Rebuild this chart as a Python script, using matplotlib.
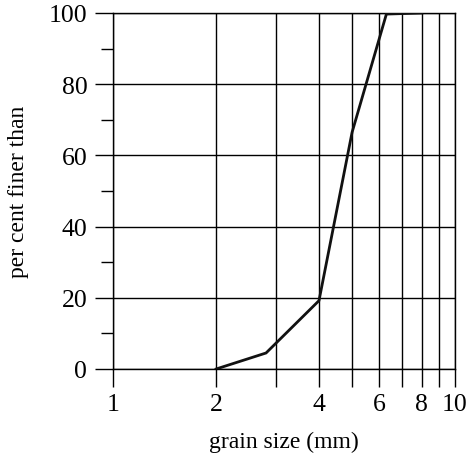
import matplotlib
matplotlib.use("Agg")
import matplotlib.pyplot as plt
from matplotlib.ticker import FixedLocator, NullFormatter, FixedFormatter

grain_size = [2.0, 2.8, 4.0, 5.0, 6.3, 8.0]
percent_finer = [0.0, 4.5, 19.2, 66.5, 99.7, 100.0]
x_grid = [1, 2, 3, 4, 5, 6, 7, 8, 9, 10]
x_labels = ["1", "2", "", "4", "", "6", "", "8", "", "10"]
y_major = [0, 20, 40, 60, 80, 100]
y_minor = [10, 30, 50, 70, 90]

plt.rcParams['font.family'] = ['Liberation Serif', 'DejaVu Serif']

fig = plt.figure(figsize=(4.70, 4.56), dpi=100)
ax = fig.add_axes([0.241, 0.1886, 0.727, 0.7807])
ax.plot(grain_size, percent_finer, color='#111111', lw=2.0, solid_joinstyle='miter', zorder=3)
ax.set_xscale('log')
ax.set_xlim(1, 10)
ax.set_ylim(0, 100)

for s in ax.spines.values():
    s.set_linewidth(1.0)
ax.xaxis.set_major_locator(FixedLocator(x_grid))
ax.xaxis.set_major_formatter(FixedFormatter(x_labels))
ax.xaxis.set_minor_locator(FixedLocator([]))
ax.xaxis.set_minor_formatter(NullFormatter())
ax.yaxis.set_major_locator(FixedLocator(y_major))
ax.yaxis.set_minor_locator(FixedLocator(y_minor))

ax.grid(True, which='major', color='black', lw=1.0)
ax.tick_params(axis='x', which='major', direction='out', length=13, width=1.0, pad=4, labelsize=18.5)
ax.tick_params(axis='y', which='major', direction='out', length=12.7, width=1.0, pad=6, labelsize=18.5)
ax.tick_params(axis='y', which='minor', direction='out', length=8.6, width=1.0)

ax.set_xlabel('grain size (mm)', fontsize=17, labelpad=12)
ax.set_ylabel('per cent finer than', fontsize=17, labelpad=14)

fig.savefig('out.png', dpi=100)
